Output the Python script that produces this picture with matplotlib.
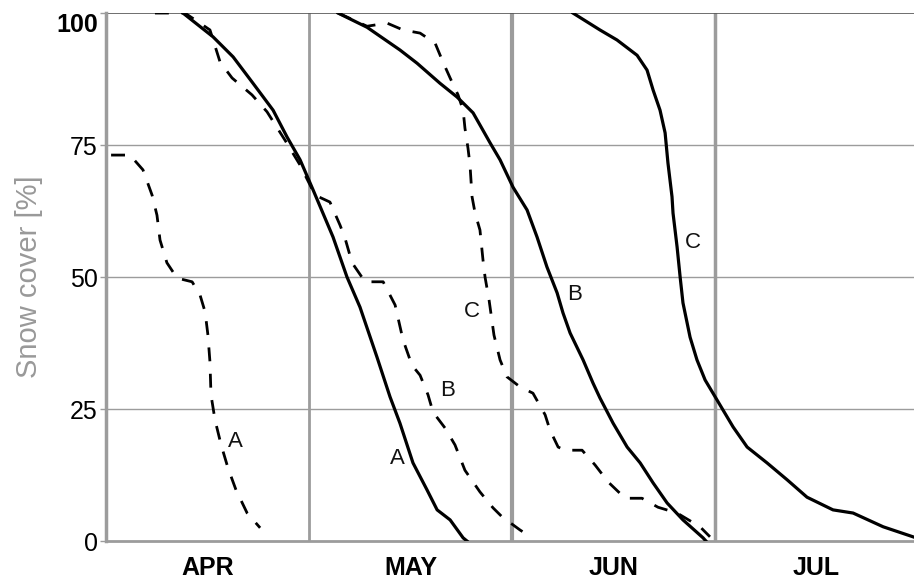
import numpy as np
import matplotlib
matplotlib.use("Agg")
import matplotlib.pyplot as plt

# x in months since 1 April (0 = Apr 1, 1 = May 1, ...), y in % snow cover
months = ["APR", "MAY", "JUN", "JUL"]
yticks = [0, 25, 50, 75, 100]

solid_A_x = [0.379, 0.527, 0.626, 0.724, 0.823, 0.892, 0.956, 1.020, 1.118, 1.187, 1.251,
             1.335, 1.399, 1.448, 1.512, 1.581, 1.631, 1.695, 1.759, 1.778]
solid_A_y = [100, 95.5, 91.7, 86.7, 81.6, 76.5, 72.2, 66.5, 57.6, 50.0, 44.3,
             34.8, 27.3, 22.3, 14.8, 9.7, 5.9, 4.0, 0.6, 0]

solid_B_x = [1.143, 1.286, 1.448, 1.532, 1.645, 1.729, 1.808, 1.842, 1.892, 1.941, 2.005,
             2.074, 2.123, 2.172, 2.222, 2.251, 2.286, 2.350, 2.399, 2.433, 2.498,
             2.567, 2.631, 2.695, 2.764, 2.842, 2.941, 2.955]
solid_B_y = [100, 97.3, 93.0, 90.5, 86.7, 84.1, 81.1, 78.8, 75.4, 72.2, 67.0,
             62.7, 57.6, 51.9, 47.0, 43.2, 39.4, 34.3, 29.9, 27.1, 22.3,
             17.8, 14.8, 11.0, 7.2, 4.0, 0.6, 0]

solid_C_x = [2.300, 2.433, 2.517, 2.616, 2.665, 2.695, 2.729, 2.754, 2.768, 2.788, 2.793,
             2.813, 2.828, 2.842, 2.877, 2.911, 2.951, 3.010, 3.089, 3.158, 3.256,
             3.355, 3.453, 3.581, 3.680, 3.828, 3.975]
solid_C_y = [100, 96.8, 94.9, 92.0, 89.2, 85.4, 81.6, 77.3, 71.6, 65.2, 62.1,
             55.7, 50.0, 45.1, 38.6, 34.3, 30.5, 26.7, 21.6, 17.8, 14.8,
             11.6, 8.3, 5.9, 5.3, 2.7, 0.8]

dash_A_x = [0.025, 0.118, 0.182, 0.227, 0.251, 0.266, 0.300, 0.350, 0.424, 0.463, 0.488,
            0.502, 0.512, 0.517, 0.537, 0.567, 0.601, 0.640, 0.695, 0.759]
dash_A_y = [73.1, 73.1, 70.3, 65.5, 61.7, 57.0, 52.7, 49.8, 49.1, 46.6, 43.4,
            39.0, 33.9, 27.7, 22.9, 18.2, 13.8, 9.7, 5.3, 2.5]

dash_B_x = [0.241, 0.389, 0.512, 0.562, 0.621, 0.719, 0.793, 0.882, 0.956, 1.030, 1.103,
            1.153, 1.177, 1.212, 1.276, 1.365, 1.424, 1.463, 1.507, 1.547, 1.586,
            1.611, 1.670, 1.719, 1.768, 1.842, 1.906, 1.966, 2.000, 2.039, 2.079]
dash_B_y = [100, 100, 96.8, 90.7, 87.7, 84.5, 81.3, 75.9, 71.2, 65.5, 64.2,
            59.8, 57.4, 52.7, 49.1, 49.1, 44.7, 38.1, 33.3, 31.4, 27.7,
            24.4, 21.4, 18.2, 13.4, 9.3, 6.3, 4.0, 3.2, 2.1, 1.1]

dash_C_x = [1.143, 1.286, 1.384, 1.463, 1.547, 1.621, 1.660, 1.695, 1.734, 1.759, 1.768,
            1.783, 1.793, 1.803, 1.818, 1.842, 1.857, 1.867, 1.887, 1.911, 1.941,
            1.975, 2.039, 2.103, 2.163, 2.187, 2.227, 2.261, 2.345, 2.409, 2.473,
            2.557, 2.640, 2.719, 2.813, 2.926, 2.975]
dash_C_y = [100, 97.5, 98.1, 96.8, 96.2, 94.3, 90.7, 87.7, 84.5, 81.6, 78.2,
            74.4, 71.2, 65.2, 62.1, 58.9, 53.2, 50.0, 45.6, 39.0, 34.3,
            31.1, 29.2, 28.0, 23.9, 21.0, 17.8, 17.2, 17.2, 14.4, 11.2,
            8.1, 8.1, 6.4, 5.3, 2.7, 0.8]

# label text, x, y
labels = [("A", 0.635, 18.8), ("A", 1.433, 15.7), ("B", 1.680, 28.6),
          ("B", 2.310, 46.6), ("C", 1.803, 43.4), ("C", 2.892, 56.6)]

fig = plt.figure(figsize=(9.14, 5.8), dpi=100)
ax = fig.add_axes([0.116, 0.0672, 0.884, 0.9103])

grid_c = "#9c9c9c"
for yv in [25, 50, 75]:
    ax.axhline(yv, color=grid_c, lw=1.0, zorder=1)
for xv, w in zip([1, 2, 3], [2.0, 3.0, 2.5]):
    ax.axvline(xv, color=grid_c, lw=w, zorder=1)
ax.axhline(100, color="#555555", lw=1.2, zorder=1)

lw = 2.3
ax.plot(solid_A_x, solid_A_y, color="black", lw=lw, zorder=3)
ax.plot(solid_B_x, solid_B_y, color="black", lw=lw, zorder=3)
ax.plot(solid_C_x, solid_C_y, color="black", lw=lw, zorder=3)
for xs, ys in [(dash_A_x, dash_A_y), (dash_B_x, dash_B_y), (dash_C_x, dash_C_y)]:
    ax.plot(xs, ys, color="black", lw=2.0, dashes=(5, 4.5), zorder=3)

for t, x, y in labels:
    ax.text(x, y, t, fontsize=16, family="Liberation Sans", ha="center", va="center",
            color="#111111", zorder=4)

ax.set_xlim(0, 3.98)
ax.set_ylim(0, 100)

ax.set_xticks([0.5, 1.5, 2.5, 3.5])
ax.set_xticklabels(months, fontsize=18, fontweight="bold", family="Liberation Sans")
ax.tick_params(axis="x", length=0, pad=11)

ax.set_yticks(yticks)
ax.set_yticklabels([str(v) for v in yticks], fontsize=18, family="Liberation Sans")
ax.tick_params(axis="y", length=4, width=1, color=grid_c, pad=2)
tl = ax.get_yticklabels()
tl[-1].set_fontweight("bold")
tl[-1].set_va("top")

ax.set_ylabel("Snow cover [%]", fontsize=21, color="#999999", family="Liberation Sans")
ax.yaxis.set_label_coords(-0.078, 0.5)

for side in ["top", "right"]:
    ax.spines[side].set_visible(False)
ax.spines["left"].set_color(grid_c)
ax.spines["left"].set_linewidth(2.5)
ax.spines["bottom"].set_color(grid_c)
ax.spines["bottom"].set_linewidth(2.0)

fig.savefig("out.png", dpi=100)
